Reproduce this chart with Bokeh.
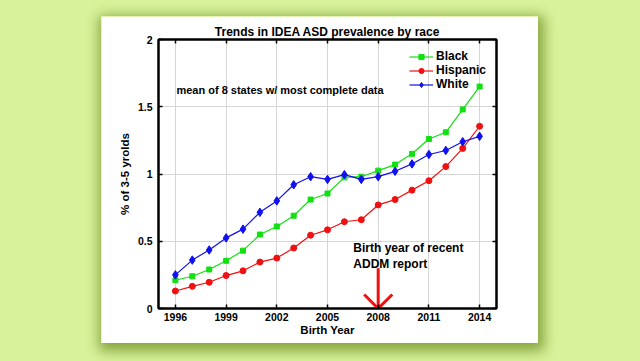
from bokeh.plotting import figure
from bokeh.models import Label, Legend, LegendItem, LinearAxis, FixedTicker, Range1d
from bokeh.embed import file_html
from bokeh.resources import INLINE

# ---- data ----
years = list(range(1996, 2015))
black = [0.21, 0.24, 0.29, 0.355, 0.43, 0.55, 0.61, 0.69, 0.81, 0.855,
         0.975, 0.98, 1.025, 1.07, 1.15, 1.26, 1.31, 1.48, 1.65]
hispanic = [0.13, 0.165, 0.195, 0.245, 0.28, 0.345, 0.375, 0.45, 0.545, 0.585,
            0.645, 0.66, 0.77, 0.81, 0.88, 0.95, 1.055, 1.19, 1.355]
white = [0.25, 0.36, 0.435, 0.525, 0.59, 0.715, 0.80, 0.92, 0.98, 0.96,
         0.995, 0.96, 0.98, 1.02, 1.075, 1.145, 1.175, 1.24, 1.28]
series_names = ["Black", "Hispanic", "White"]
x_ticks = [1996, 1999, 2002, 2005, 2008, 2011, 2014]
y_ticks = [0, 0.5, 1, 1.5, 2]
title_text = "Trends in IDEA ASD prevalence by race"
note_text = "mean of 8 states w/ most complete data"
arrow_text = "Birth year of recent\nADDM report"
arrow_year = 2008
arrow_top = 0.30

FONT = "Liberation Sans"
BG = "#d8f29b"

p = figure(width=437, height=327, x_range=Range1d(1995, 2015), y_range=Range1d(0, 2),
           output_backend="svg", toolbar_location=None,
           min_border_left=57, min_border_right=42, min_border_top=23, min_border_bottom=35,
           background_fill_color="white", border_fill_color="white",
           outline_line_color="black", outline_line_width=2)
p.margin = (16, 0, 0, 101)
p.styles = {"box-shadow": "2px 4px 12px 4px rgba(120,150,45,0.85)"}

p.title.text = title_text
p.title.align = "center"
p.title.text_font = FONT
p.title.text_font_style = "bold"
p.title.text_font_size = "12px"
p.title.text_color = "black"
p.title.standoff = 2
p.title.offset = 0

# axes
for ax in (p.xaxis[0], p.yaxis[0]):
    ax.major_tick_in = 4
    ax.major_tick_out = 0
    ax.minor_tick_in = 0
    ax.minor_tick_out = 0
    ax.axis_line_width = 2
    ax.axis_line_color = "black"
    ax.major_tick_line_width = 1.5
    ax.major_label_text_font = FONT
    ax.major_label_text_font_style = "bold"
    ax.major_label_text_font_size = "10.5px"
    ax.major_label_text_color = "black"
    ax.axis_label_text_font = FONT
    ax.axis_label_text_font_style = "bold"
    ax.axis_label_text_font_size = "11.5px"
    ax.axis_label_text_color = "black"

p.xaxis.ticker = FixedTicker(ticks=x_ticks)
p.yaxis.ticker = FixedTicker(ticks=y_ticks)
p.xaxis.major_label_standoff = 4
p.yaxis.major_label_standoff = 6
p.xaxis.axis_label = "Birth Year"
p.yaxis.axis_label = "% of 3-5 yrolds"
p.xaxis.axis_label_standoff = 0
p.yaxis.axis_label_standoff = 4

for loc, ticks in (("right", y_ticks), ("above", x_ticks)):
    a = LinearAxis(ticker=FixedTicker(ticks=ticks), major_tick_in=4, major_tick_out=0,
                   minor_tick_in=0, minor_tick_out=0, axis_line_width=2,
                   major_tick_line_width=1.5,
                   major_label_overrides={t: "" for t in ticks},
                   major_label_standoff=0)
    p.add_layout(a, loc)

p.xgrid.ticker = FixedTicker(ticks=x_ticks)
p.ygrid.ticker = FixedTicker(ticks=y_ticks)
p.grid.grid_line_color = "#d6d6d6"
p.grid.grid_line_width = 1

# series
colors = ["#11e011", "#f01010", "#1010f0"]
vals = [black, hispanic, white]
markers = ["square", "circle", "diamond"]
sizes = [5, 6, 8.5]
items = []
for name, v, c, m, s in zip(series_names, vals, colors, markers, sizes):
    l = p.line(years, v, line_color=c, line_width=1.2)
    sc = p.scatter(years, v, marker=m, size=s, fill_color=c, line_color=c)
    items.append(LegendItem(label=name, renderers=[l, sc]))

legend = Legend(items=items, location="top_right", margin=10, padding=0, spacing=0,
                glyph_width=24, glyph_height=13, label_height=13, label_standoff=3,
                border_line_color=None, background_fill_alpha=0,
                label_text_font=FONT, label_text_font_style="bold",
                label_text_font_size="12px", label_text_color="black")
p.add_layout(legend)

# arrow
p.segment(x0=[arrow_year], y0=[arrow_top], x1=[arrow_year], y1=[0],
          line_color="#f01010", line_width=3)
p.segment(x0=[arrow_year - 0.83, arrow_year + 0.83], y0=[0.104, 0.104],
          x1=[arrow_year, arrow_year], y1=[0, 0], line_color="#f01010", line_width=3)

# texts
p.add_layout(Label(x=1996.06, y=1.621, text=note_text, text_align="left",
                   text_baseline="middle", text_font=FONT, text_font_style="bold",
                   text_font_size="11px", text_color="black"))
p.add_layout(Label(x=2006.53, y=0.5, text=arrow_text, text_align="left",
                   text_baseline="top", text_font=FONT, text_font_style="bold",
                   text_font_size="12px", text_color="black", text_line_height=1.15))

html = file_html(p, INLINE)
html = html.replace("</head>",
                    "<style>html,body{margin:0;padding:0;background-color:%s;overflow:hidden;}</style></head>" % BG, 1)
open("out.html", "w").write(html)
